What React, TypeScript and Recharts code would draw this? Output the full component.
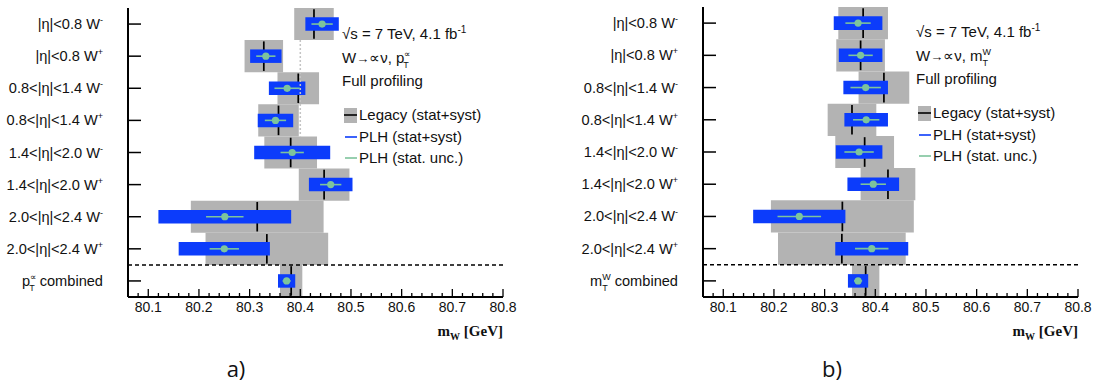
import type { ReactNode } from "react";
import { ComposedChart, XAxis, YAxis, ReferenceArea, ReferenceLine, Scatter, ErrorBar } from "recharts";

const GRAY = "#b3b3b3";
const BLUE = "#0c3cfb";
const GREEN = "#7dc49c";
const SANS = "'Liberation Sans', Arial, sans-serif";

const ETA_BINS = ["|η|<0.8", "|η|<0.8", "0.8<|η|<1.4", "0.8<|η|<1.4", "1.4<|η|<2.0", "1.4<|η|<2.0", "2.0<|η|<2.4", "2.0<|η|<2.4"];
const CHARGES = ["-", "+", "-", "+", "-", "+", "-", "+"];
const X_MAJOR = [80.1, 80.2, 80.3, 80.4, 80.5, 80.6, 80.7, 80.8];
const X_DOMAIN: [number, number] = [80.06, 80.8];

// a) pT^l fits, GeV
const LEGACY_PT = [80.427, 80.328, 80.396, 80.357, 80.381, 80.447, 80.315, 80.334, 80.382];
const LEGACY_PT_ERR = [0.039, 0.038, 0.041, 0.040, 0.052, 0.050, 0.131, 0.121, 0.022];
const PLH_PT = [80.443, 80.332, 80.374, 80.351, 80.384, 80.460, 80.251, 80.250, 80.373];
const PLH_PT_ERR = [0.033, 0.031, 0.036, 0.035, 0.075, 0.043, 0.131, 0.090, 0.017];
const PLH_PT_STAT = [0.021, 0.019, 0.025, 0.021, 0.023, 0.021, 0.037, 0.029, 0.008];

// b) mT^W fits, GeV
const LEGACY_MT = [80.376, 80.371, 80.417, 80.354, 80.379, 80.425, 80.335, 80.334, 80.381];
const LEGACY_MT_ERR = [0.049, 0.048, 0.050, 0.048, 0.058, 0.054, 0.141, 0.126, 0.027];
const PLH_MT = [80.366, 80.371, 80.381, 80.382, 80.368, 80.396, 80.250, 80.393, 80.366];
const PLH_MT_ERR = [0.048, 0.043, 0.044, 0.043, 0.046, 0.051, 0.091, 0.072, 0.020];
const PLH_MT_STAT = [0.025, 0.024, 0.030, 0.026, 0.029, 0.025, 0.043, 0.033, 0.008];

const ROWS = [0, 1, 2, 3, 4, 5, 6, 7, 8];

// major + minor (0.02) tick positions
const ALL_TICKS: number[] = [];
for (let k = 0; k <= 37; k++) ALL_TICKS.push(Math.round((80.06 + k * 0.02) * 1000) / 1000);
const isMajor = (v: number) => X_MAJOR.some((m) => Math.abs(m - v) < 1e-6);

const sup = (s: string, dx = 0) => (
  <tspan dy={-6} fontSize={9} dx={dx}>{s}</tspan>
);

const etaLabel = (i: number) => (
  <>
    {ETA_BINS[i]} W{sup(CHARGES[i])}
  </>
);

const BottomTick = (props: any) => {
  const { x, y, payload } = props;
  const major = isMajor(payload.value);
  return (
    <g>
      <line x1={x} x2={x} y1={y} y2={y - (major ? 8 : 4)} stroke="#000" strokeWidth={1.3} />
      {major && (
        <text x={x} y={y + 15} textAnchor="middle" fontSize={14} fontFamily={SANS} fill="#111">
          {payload.value.toFixed(1)}
        </text>
      )}
    </g>
  );
};

const TopTick = (props: any) => {
  const { x, y, payload } = props;
  const major = isMajor(payload.value);
  return <line x1={x} x2={x} y1={y} y2={y + (major ? 7 : 4)} stroke="#000" strokeWidth={1.3} />;
};

const RightTick = (props: any) => {
  const { x, y } = props;
  return <line x1={x - 12} x2={x} y1={y} y2={y} stroke="#000" strokeWidth={1.5} />;
};

const makeLeftTick = (combined: ReactNode) => (props: any) => {
  const { x, y, payload } = props;
  const i = payload.value as number;
  return (
    <g>
      <line x1={x} x2={x + 13} y1={y} y2={y} stroke="#000" strokeWidth={1.5} />
      <text x={x - 25} y={y + 5} textAnchor="end" fontSize={14.6} fontFamily={SANS} fill="#111">
        {i < 8 ? etaLabel(i) : combined}
      </text>
    </g>
  );
};

interface PanelProps {
  legacy: number[];
  legacyErr: number[];
  plh: number[];
  plhErr: number[];
  plhStat: number[];
  combined: ReactNode;
  yWidth: number;
  width: number;
  top: number;
  right: number;
  dotted?: boolean;
}

const Panel = ({ legacy, legacyErr, plh, plhErr, plhStat, combined, yWidth, width, top, right, dotted }: PanelProps) => {
  const points = ROWS.map((i) => ({ x: plh[i], y: i, ex: plhStat[i] }));
  const LeftTick = makeLeftTick(combined);
  return (
    <ComposedChart width={width} height={387} margin={{ top, right, bottom: 60, left: 0 }}>
      <XAxis xAxisId={0} dataKey="x" type="number" domain={X_DOMAIN} allowDataOverflow ticks={ALL_TICKS} interval={0}
        tick={BottomTick} tickSize={0} tickMargin={0} tickLine={false} height={30} axisLine={{ stroke: "#000", strokeWidth: 2 }} />
      <XAxis xAxisId="top" orientation="top" type="number" domain={X_DOMAIN} allowDataOverflow ticks={ALL_TICKS} interval={0}
        tick={TopTick} tickSize={0} tickMargin={0} tickLine={false} height={0} axisLine={{ stroke: "#000", strokeWidth: 2 }} />
      <YAxis yAxisId={0} dataKey="y" type="number" domain={[-0.5, 8.5]} reversed allowDataOverflow ticks={ROWS} interval={0}
        tick={LeftTick} tickSize={0} tickMargin={0} tickLine={false} width={yWidth} axisLine={{ stroke: "#000", strokeWidth: 2 }} />
      <YAxis yAxisId="right" orientation="right" type="number" domain={[-0.5, 8.5]} reversed allowDataOverflow ticks={ROWS} interval={0}
        tick={RightTick} tickSize={0} tickMargin={0} tickLine={false} width={0} axisLine={{ stroke: "#000", strokeWidth: 2 }} />

      {ROWS.map((i) => (
        <ReferenceArea key={`g${i}`} x1={legacy[i] - legacyErr[i]} x2={legacy[i] + legacyErr[i]} y1={i - 0.5} y2={i + 0.5}
          fill={GRAY} fillOpacity={1} stroke="none" />
      ))}
      {dotted && (
        <ReferenceLine segment={[{ x: 80.4, y: 0.5 }, { x: 80.4, y: 3.5 }]} stroke="#c4c4c4" strokeWidth={1.5} strokeDasharray="2 2" />
      )}
      {ROWS.map((i) => (
        <ReferenceArea key={`k${i}`} x1={legacy[i] - 0.0017} x2={legacy[i] + 0.0017} y1={i - 0.46} y2={i + 0.46}
          fill="#000" fillOpacity={1} stroke="none" />
      ))}
      {ROWS.map((i) => (
        <ReferenceArea key={`b${i}`} x1={plh[i] - plhErr[i]} x2={plh[i] + plhErr[i]} y1={i - 0.21} y2={i + 0.21}
          fill={BLUE} fillOpacity={1} stroke="none" />
      ))}
      <ReferenceLine y={7.5} stroke="#000" strokeWidth={1.5} strokeDasharray="4 3" />
      <Scatter data={points} isAnimationActive={false}
        shape={(p: any) => <circle cx={p.cx} cy={p.cy} r={3.6} fill={GREEN} />}>
        <ErrorBar dataKey="ex" direction="x" width={0} stroke={GREEN} strokeWidth={1.6} />
      </Scatter>
    </ComposedChart>
  );
};

const Legend = ({ x, y0, proc }: { x: number; y0: number; proc: ReactNode }) => (
  <g fontFamily={SANS} fontSize={15} fill="#111">
    <text x={x} y={y0}>√s = 7 TeV, 4.1 fb<tspan dy={-6} fontSize={10}>-1</tspan></text>
    <text x={x} y={y0 + 24}>W<tspan fontSize={13}>→</tspan>∝ν, {proc}</text>
    <text x={x} y={y0 + 47}>Full profiling</text>
    <rect x={x + 2} y={y0 + 69} width={13} height={15} fill={GRAY} />
    <line x1={x + 2} x2={x + 15} y1={y0 + 76} y2={y0 + 76} stroke="#000" strokeWidth={1.6} />
    <text x={x + 17} y={y0 + 81}>Legacy (stat+syst)</text>
    <line x1={x + 3} x2={x + 15} y1={y0 + 98} y2={y0 + 98} stroke={BLUE} strokeWidth={1.6} />
    <text x={x + 17} y={y0 + 103}>PLH (stat+syst)</text>
    <line x1={x + 3} x2={x + 15} y1={y0 + 119} y2={y0 + 119} stroke={GREEN} strokeWidth={1.6} />
    <text x={x + 17} y={y0 + 124}>PLH (stat. unc.)</text>
  </g>
);

const AxisTitle = ({ x }: { x: number }) => (
  <text x={x} y={336} textAnchor="end" fontFamily="'Liberation Serif', serif" fontWeight="bold" fontSize={15} fill="#111">
    m<tspan dy={4} fontSize={10}>W</tspan><tspan dy={-4}> [GeV]</tspan>
  </text>
);

export default function App() {
  return (
    <div style={{ position: "absolute", left: 0, top: 0, width: 1103, height: 387, background: "#fff" }}>
      <div style={{ position: "absolute", left: 0, top: 0 }}>
        <Panel legacy={LEGACY_PT} legacyErr={LEGACY_PT_ERR} plh={PLH_PT} plhErr={PLH_PT_ERR} plhStat={PLH_PT_STAT}
          combined={<>p{sup("∝")}<tspan dx={-7} dy={11} fontSize={9}>T</tspan><tspan dx={1} dy={-5}> combined</tspan></>}
          yWidth={128} width={552} top={8} right={49} dotted />
      </div>
      <div style={{ position: "absolute", left: 552, top: 0 }}>
        <Panel legacy={LEGACY_MT} legacyErr={LEGACY_MT_ERR} plh={PLH_MT} plhErr={PLH_MT_ERR} plhStat={PLH_MT_STAT}
          combined={<>m{sup("W")}<tspan dx={-8.5} dy={11} fontSize={9}>T</tspan><tspan dx={3} dy={-5}> combined</tspan></>}
          yWidth={151} width={551} top={7} right={25} />
      </div>
      <svg width={1103} height={387} style={{ position: "absolute", left: 0, top: 0, pointerEvents: "none" }}>
        <Legend x={342} y0={39}
          proc={<>p{sup("∝")}<tspan dx={-7} dy={11} fontSize={9}>T</tspan></>} />
        <Legend x={916} y0={37}
          proc={<>m{sup("W")}<tspan dx={-8.5} dy={11} fontSize={9}>T</tspan></>} />
        <AxisTitle x={503} />
        <AxisTitle x={1078} />
        <text x={236} y={377} textAnchor="middle" fontFamily="'Open Sans', sans-serif" fontSize={22} fill="#111">a)</text>
        <text x={832} y={377} textAnchor="middle" fontFamily="'Open Sans', sans-serif" fontSize={22} fill="#111">b)</text>
      </svg>
    </div>
  );
}
